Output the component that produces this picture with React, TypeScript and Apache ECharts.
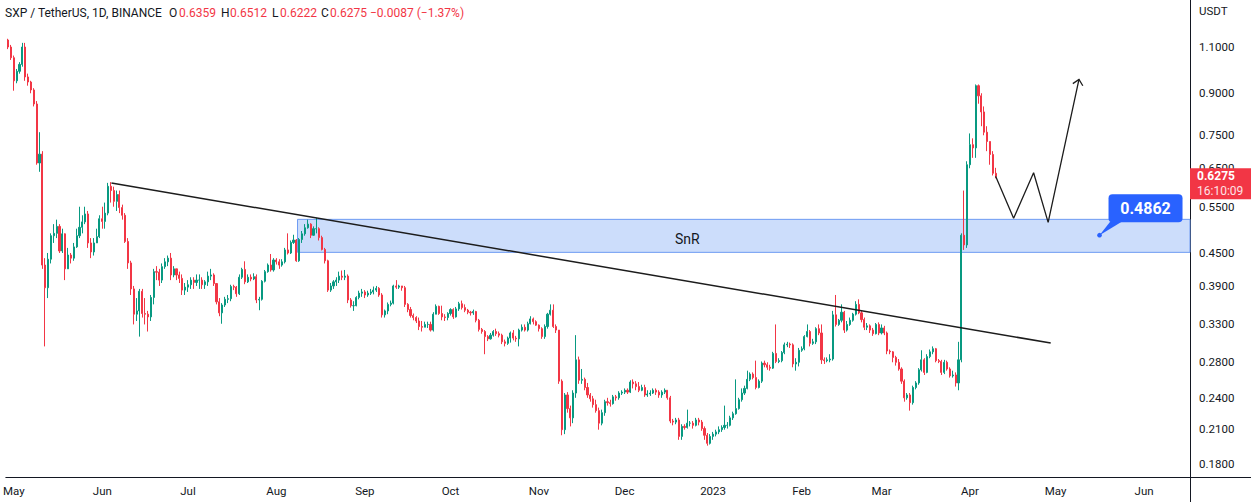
import React, { useEffect, useRef } from 'react';
import * as echarts from 'echarts';

// ---------- data (daily candles from 29 Apr 2022) ----------
const START = Date.UTC(2022, 3, 29);
const DAY = 86400000;
const firstOpen = 1.134;

const closes = [
  1.10,1.05,0.95,0.99,1.02,1.10,0.966,0.945,0.913,0.859,0.665,0.691,0.427,0.387,0.438,0.485,0.49,0.505,0.454,0.489,
  0.42,0.446,0.44,0.462,0.485,0.503,0.515,0.533,0.47,0.452,0.47,0.483,0.522,0.516,0.535,0.601,0.59,0.563,0.58,0.548,
  0.53,0.473,0.431,0.385,0.345,0.35,0.381,0.346,0.345,0.341,0.371,0.415,0.414,0.40,0.424,0.433,0.44,0.409,0.42,0.409,
  0.403,0.383,0.388,0.392,0.40,0.396,0.40,
  0.400,0.392,0.397,0.407,0.409,0.394,0.364,0.347,0.359,0.368,0.369,0.389,0.388,0.377,0.405,0.419,0.397,0.405,0.402,0.406,
  0.367,0.368,0.398,0.415,0.427,0.418,0.4365,0.433,0.427,0.433,0.456,0.45,0.471,0.476,0.435,0.477,0.489,0.502,0.51,0.486,
  0.50,0.50,0.481,0.457,0.435,0.383,
  0.39,0.397,0.40,0.407,0.405,0.407,0.367,0.358,0.358,0.371,0.378,0.38,0.375,0.378,0.38,0.383,0.386,0.375,0.344,0.35,
  0.36,0.362,0.39,0.388,0.39,0.387,0.36,0.352,0.343,0.34,0.335,0.327,0.326,0.33,0.33,0.322,0.345,0.357,0.346,0.341,
  0.34,0.346,0.352,
  0.341,0.353,0.361,0.355,0.351,0.348,0.347,0.349,0.336,0.323,0.320,0.313,0.310,0.315,0.320,0.317,0.315,0.306,0.304,0.311,
  0.318,0.311,0.310,0.322,0.326,0.322,0.331,0.338,0.334,0.329,0.324,0.313,0.327,0.345,0.351,0.327,0.322,
  0.258,0.209,0.243,0.229,0.220,0.245,0.283,0.259,0.26,0.251,0.243,0.239,0.233,0.227,0.215,0.225,0.236,0.235,0.234,0.241,
  0.24,0.245,0.246,0.248,0.246,0.257,0.255,0.252,0.248,0.251,0.243,0.244,0.245,0.248,0.246,0.243,0.246,0.248,0.24,0.217,
  0.216,0.218,0.203,0.212,0.211,0.215,0.215,0.213,0.218,0.216,
  0.21,0.204,0.197,0.203,0.205,0.207,0.209,0.211,0.213,0.213,0.22,0.224,0.229,0.238,0.245,0.25,0.26,0.266,0.262,0.251,
  0.258,0.279,0.277,0.274,0.273,0.291,0.281,0.282,0.292,0.302,0.303,0.302,0.278,0.28,0.295,0.297,0.313,0.320,0.304,0.306,
  0.324,0.318,0.283,0.282,0.283,0.284,0.344,0.33,0.336,0.348,0.322,0.33,0.336,0.345,0.360,0.347,0.337,0.326,0.328,0.322,
  0.317,0.33,0.318,0.325,0.318,0.294,0.293,0.286,0.28,0.272,0.258,0.240,0.243,0.235,0.251,0.256,0.271,0.283,0.268,0.287,
  0.293,0.297,0.282,0.281,0.268,0.28,0.272,0.264,0.265,0.256,0.283,
  0.486,0.466,0.66,0.72,0.71,0.93,0.89,0.83,0.76,0.73,0.69,0.6359,0.6275,
];

const highs = [
  1.14,1.11,1.06,1.00,1.03,1.12,1.12,0.98,0.95,0.92,0.87,0.76,0.70,0.44,0.45,0.49,0.51,0.52,0.51,0.50,
  0.49,0.46,0.45,0.47,0.50,0.55,0.53,0.55,0.54,0.48,0.48,0.50,0.53,0.55,0.56,0.61,0.612,0.60,0.59,0.59,
  0.555,0.535,0.48,0.435,0.39,0.37,0.385,0.385,0.37,0.35,0.375,0.42,0.425,0.42,0.43,0.44,0.445,0.45,0.425,0.42,
  0.415,0.41,0.395,0.40,0.405,0.405,0.41,
  0.41,0.405,0.40,0.415,0.42,0.412,0.395,0.37,0.362,0.372,0.375,0.392,0.392,0.39,0.41,0.422,0.434,0.41,0.41,0.412,
  0.41,0.372,0.40,0.418,0.43,0.448,0.44,0.44,0.438,0.438,0.46,0.49,0.475,0.487,0.478,0.48,0.495,0.51,0.52,0.512,
  0.505,0.524,0.503,0.485,0.46,0.437,
  0.395,0.40,0.405,0.415,0.417,0.418,0.41,0.37,0.365,0.373,0.382,0.385,0.383,0.382,0.385,0.389,0.39,0.388,0.378,0.352,
  0.363,0.366,0.392,0.40,0.392,0.39,0.39,0.362,0.356,0.346,0.342,0.34,0.335,0.334,0.334,0.334,0.348,0.36,0.358,0.358,
  0.345,0.348,0.354,
  0.354,0.356,0.364,0.366,0.36,0.353,0.35,0.352,0.35,0.338,0.325,0.322,0.315,0.318,0.322,0.324,0.32,0.317,0.309,0.313,
  0.32,0.322,0.314,0.324,0.33,0.33,0.334,0.342,0.34,0.336,0.33,0.326,0.33,0.347,0.36,0.36,0.33,
  0.322,0.26,0.245,0.246,0.232,0.248,0.315,0.287,0.272,0.262,0.256,0.245,0.242,0.238,0.23,0.228,0.238,0.24,0.238,0.243,
  0.243,0.247,0.248,0.25,0.25,0.259,0.26,0.258,0.257,0.254,0.254,0.248,0.248,0.25,0.25,0.248,0.248,0.25,0.248,0.242,
  0.219,0.22,0.22,0.214,0.214,0.228,0.217,0.217,0.22,0.22,
  0.218,0.212,0.206,0.205,0.207,0.209,0.212,0.213,0.232,0.216,0.222,0.226,0.26,0.24,0.25,0.253,0.27,0.268,0.268,0.282,
  0.26,0.281,0.282,0.28,0.277,0.293,0.33,0.285,0.294,0.305,0.306,0.305,0.304,0.285,0.298,0.30,0.315,0.33,0.322,0.31,
  0.326,0.33,0.33,0.286,0.286,0.29,0.35,0.375,0.338,0.36,0.35,0.335,0.34,0.347,0.365,0.368,0.35,0.34,0.332,0.33,
  0.325,0.332,0.333,0.33,0.328,0.32,0.296,0.294,0.288,0.284,0.274,0.26,0.245,0.245,0.253,0.258,0.273,0.295,0.285,0.29,
  0.296,0.30,0.298,0.284,0.283,0.283,0.282,0.274,0.27,0.268,0.306,
  0.49,0.59,0.67,0.756,0.74,0.935,0.935,0.90,0.85,0.78,0.73,0.70,0.6512,
];

const lows = [
  1.09,1.04,0.91,0.94,0.98,1.01,0.95,0.93,0.90,0.85,0.66,0.64,0.42,0.30,0.37,0.43,0.47,0.48,0.45,0.45,
  0.40,0.42,0.43,0.435,0.46,0.48,0.49,0.51,0.46,0.44,0.445,0.47,0.48,0.50,0.50,0.53,0.56,0.55,0.54,0.535,
  0.52,0.47,0.42,0.375,0.33,0.335,0.313,0.34,0.33,0.32,0.335,0.36,0.40,0.39,0.395,0.42,0.425,0.40,0.405,0.40,
  0.395,0.375,0.375,0.38,0.385,0.385,0.39,
  0.385,0.385,0.385,0.39,0.40,0.39,0.36,0.342,0.331,0.356,0.362,0.365,0.383,0.372,0.375,0.402,0.393,0.395,0.398,0.40,
  0.362,0.351,0.366,0.396,0.413,0.415,0.415,0.428,0.42,0.424,0.43,0.447,0.448,0.468,0.433,0.433,0.47,0.485,0.50,0.48,
  0.485,0.49,0.475,0.455,0.43,0.38,
  0.38,0.385,0.39,0.395,0.40,0.40,0.362,0.355,0.35,0.357,0.368,0.372,0.37,0.372,0.375,0.376,0.38,0.372,0.34,0.34,
  0.345,0.357,0.36,0.385,0.385,0.382,0.356,0.348,0.34,0.336,0.332,0.322,0.32,0.326,0.325,0.32,0.32,0.345,0.344,0.336,
  0.335,0.336,0.343,
  0.338,0.34,0.35,0.352,0.348,0.345,0.343,0.344,0.333,0.32,0.317,0.29,0.307,0.309,0.313,0.314,0.312,0.303,0.30,0.302,
  0.305,0.308,0.306,0.30,0.32,0.32,0.32,0.33,0.33,0.328,0.32,0.31,0.31,0.324,0.343,0.325,0.318,
  0.255,0.204,0.205,0.225,0.212,0.215,0.24,0.255,0.255,0.248,0.24,0.236,0.23,0.225,0.209,0.213,0.222,0.232,0.231,0.233,
  0.237,0.238,0.243,0.244,0.244,0.245,0.25,0.248,0.246,0.247,0.241,0.241,0.242,0.244,0.243,0.24,0.24,0.244,0.238,0.215,
  0.213,0.214,0.20,0.20,0.209,0.21,0.212,0.21,0.212,0.213,
  0.208,0.20,0.195,0.196,0.20,0.203,0.205,0.207,0.209,0.21,0.212,0.218,0.223,0.228,0.236,0.243,0.249,0.258,0.26,0.249,
  0.25,0.256,0.274,0.271,0.27,0.272,0.279,0.279,0.28,0.29,0.299,0.298,0.274,0.27,0.275,0.293,0.295,0.312,0.30,0.302,
  0.303,0.315,0.278,0.278,0.28,0.28,0.282,0.327,0.328,0.333,0.318,0.32,0.328,0.334,0.343,0.345,0.333,0.322,0.322,0.318,
  0.314,0.316,0.315,0.316,0.315,0.29,0.29,0.28,0.276,0.27,0.255,0.236,0.238,0.227,0.233,0.249,0.254,0.269,0.265,0.267,
  0.285,0.29,0.28,0.279,0.265,0.266,0.27,0.262,0.262,0.252,0.248,
  0.28,0.456,0.46,0.65,0.68,0.68,0.86,0.78,0.75,0.70,0.66,0.63,0.6222,
];

const priceTicks = [0.18, 0.21, 0.24, 0.28, 0.33, 0.39, 0.45, 0.55, 0.65, 0.75, 0.9, 1.1];
const monthTicks = [
  [2022, 4], [2022, 5], [2022, 6], [2022, 7], [2022, 8], [2022, 9], [2022, 10], [2022, 11],
  [2023, 0], [2023, 1], [2023, 2], [2023, 3], [2023, 4], [2023, 5],
];
const monthNames = ['Jan', 'Feb', 'Mar', 'Apr', 'May', 'Jun', 'Jul', 'Aug', 'Sep', 'Oct', 'Nov', 'Dec'];

// drawings, as [day offset from START, price]
const trendLine = [[36.2, 0.6096], [365.3, 0.3044]];
const zigzag = [[346, 0.6275], [352.3, 0.523], [359.3, 0.6374], [364.4, 0.514], [375.2, 0.956]];
const snrZone = { fromDay: 101.4, top: 0.5207, bottom: 0.4512, labelDay: 238, labelPrice: 0.4785 };
const callout = { day: 382.4, price: 0.4862, text: '0.4862' };
const lastPrice = { value: 0.6275, text: '0.6275', countdown: '16:10:09' };
const xRange = [-0.8, 414.1];
const yRange = [0.1702, 1.349];

const UP = '#089981';
const DOWN = '#F23645';
const INK = '#131722';
const FONT = 'Roboto, sans-serif';

const L = Math.log;
const dayOf = (y: number, m: number) => Math.round((Date.UTC(y, m, 1) - START) / DAY);

export default function App() {
  const ref = useRef<HTMLDivElement>(null);
  useEffect(() => {
    const el = ref.current!;
    const chart = echarts.init(el, null, { renderer: 'svg' });

    const candles = closes.map((c, i) => {
      const o = i === 0 ? firstOpen : closes[i - 1];
      const h = Math.max(highs[i], o, c);
      const l = Math.min(lows[i], o, c);
      return [i, L(o), L(c), L(l), L(h)];
    });

    chart.setOption({
      animation: false,
      backgroundColor: '#ffffff',
      grid: { left: 0, right: 61, top: 0, bottom: 25 },
      xAxis: {
        type: 'value',
        min: xRange[0],
        max: xRange[1],
        axisLine: { show: true, onZero: false, lineStyle: { color: INK, width: 1 } },
        axisTick: { show: false },
        splitLine: { show: false },
        axisLabel: {
          customValues: monthTicks.map(([y, m]) => dayOf(y, m)),
          formatter: (v: number) => {
            const d = new Date(START + Math.round(v) * DAY);
            return d.getUTCMonth() === 0 ? String(d.getUTCFullYear()) : monthNames[d.getUTCMonth()];
          },
          color: INK,
          fontSize: 11.5,
          fontFamily: FONT,
          margin: 8,
          hideOverlap: false,
        },
      },
      yAxis: {
        type: 'value',
        position: 'right',
        min: L(yRange[0]),
        max: L(yRange[1]),
        axisLine: { show: true, onZero: false, lineStyle: { color: INK, width: 1 } },
        axisTick: { show: false },
        splitLine: { show: false },
        axisLabel: {
          customValues: priceTicks.map((p) => L(p)),
          formatter: (v: number) => Math.exp(v).toFixed(4),
          color: INK,
          fontSize: 11.5,
          fontFamily: FONT,
          margin: 9,
        },
      },
      series: [
        {
          type: 'line',
          data: [],
          z: 1,
          silent: true,
          markArea: {
            silent: true,
            itemStyle: { color: '#CCDDFB', borderColor: '#6E9BF2', borderWidth: 1 },
            label: { show: false },
            data: [[
              { xAxis: snrZone.fromDay, yAxis: L(snrZone.top) },
              { xAxis: xRange[1], yAxis: L(snrZone.bottom) },
            ]],
          },
        },
        {
          type: 'candlestick',
          data: candles,
          barWidth: 1.6,
          z: 3,
          silent: true,
          itemStyle: { color: UP, color0: DOWN, borderColor: UP, borderColor0: DOWN, borderWidth: 1 },
        },
        {
          type: 'line',
          data: trendLine.map(([d, p]) => [d, L(p)]),
          symbol: 'none',
          z: 5,
          silent: true,
          lineStyle: { color: '#1c1c1c', width: 1.5 },
        },
        {
          type: 'line',
          data: zigzag.map(([d, p]) => [d, L(p)]),
          symbol: 'none',
          z: 5,
          silent: true,
          lineStyle: { color: '#1c1c1c', width: 1.3 },
        },
      ],
    });

    const px = (d: number, p: number) =>
      chart.convertToPixel({ xAxisIndex: 0, yAxisIndex: 0 }, [d, L(p)]) as number[];

    // arrowhead at end of zigzag
    const P = px(zigzag[zigzag.length - 1][0], zigzag[zigzag.length - 1][1]);
    const Q = px(zigzag[zigzag.length - 2][0], zigzag[zigzag.length - 2][1]);
    let bx = Q[0] - P[0], by = Q[1] - P[1];
    const bl = Math.hypot(bx, by) || 1;
    bx /= bl; by /= bl;
    const rot = (a: number) => [P[0] + 7.5 * (bx * Math.cos(a) - by * Math.sin(a)), P[1] + 7.5 * (bx * Math.sin(a) + by * Math.cos(a))];
    const w1 = rot(0.75), w2 = rot(-0.75);

    const D = px(callout.day, callout.price);
    const S = px(snrZone.labelDay, snrZone.labelPrice);
    const yc = px(0, lastPrice.value)[1];

    const txt = (text: string, x: number, y: number, fill: string, size = 12, weight = 'normal', align = 'left') => ({
      type: 'text',
      z: 100,
      silent: true,
      style: {
        text, x, y, fill, fontSize: size, fontFamily: FONT, fontWeight: weight,
        align, textAlign: align, verticalAlign: 'middle', textVerticalAlign: 'middle',
      },
    });

    chart.setOption({
      graphic: [
        txt('SXP / TetherUS, 1D, BINANCE', 5, 13, INK),
        txt('O', 169, 13, INK), txt('0.6359', 179, 13, DOWN),
        txt('H', 221, 13, INK), txt('0.6512', 230, 13, DOWN),
        txt('L', 272, 13, INK), txt('0.6222', 280, 13, DOWN),
        txt('C', 321, 13, INK), txt('0.6275', 330, 13, DOWN),
        txt('\u22120.0087 (\u22121.37%)', 370, 13, DOWN),
        txt('USDT', 1199, 11, INK, 11.5),
        { type: 'line', z: 100, silent: true, shape: { x1: 1190.5, y1: 470, x2: 1190.5, y2: 502 }, style: { stroke: INK, lineWidth: 1 } },
        { type: 'line', z: 100, silent: true, shape: { x1: 1180, y1: 477.5, x2: 1251, y2: 477.5 }, style: { stroke: INK, lineWidth: 1 } },
        { type: 'rect', z: 100, silent: true, shape: { x: 1190, y: yc - 8, width: 61, height: 31 }, style: { fill: DOWN } },
        txt(lastPrice.text, 1197, yc, '#ffffff', 12, 'bold'),
        txt(lastPrice.countdown, 1197, yc + 14.5, '#fde3e6', 12),
        txt('SnR', S[0], S[1], INK, 14, 'normal', 'center'),
        { type: 'polyline', z: 100, silent: true, shape: { points: [w1, P, w2] }, style: { stroke: '#1c1c1c', lineWidth: 1.3, fill: 'none' } },
        { type: 'polygon', z: 100, silent: true, shape: { points: [[D[0] + 11, D[1] - 14], [D[0] + 23, D[1] - 14], [D[0], D[1]]] }, style: { fill: '#2962FF' } },
        { type: 'circle', z: 101, silent: true, shape: { cx: D[0], cy: D[1], r: 2.3 }, style: { fill: '#2962FF' } },
        { type: 'rect', z: 100, silent: true, shape: { x: D[0] + 9, y: D[1] - 41, width: 74, height: 28, r: 4 }, style: { fill: '#2962FF' } },
        txt(callout.text, D[0] + 46, D[1] - 27, '#ffffff', 16, 'bold', 'center'),
      ],
    });

    return () => chart.dispose();
  }, []);

  return <div ref={ref} style={{ position: 'fixed', left: 0, top: 0, width: 1251, height: 502, background: '#fff' }} />;
}
